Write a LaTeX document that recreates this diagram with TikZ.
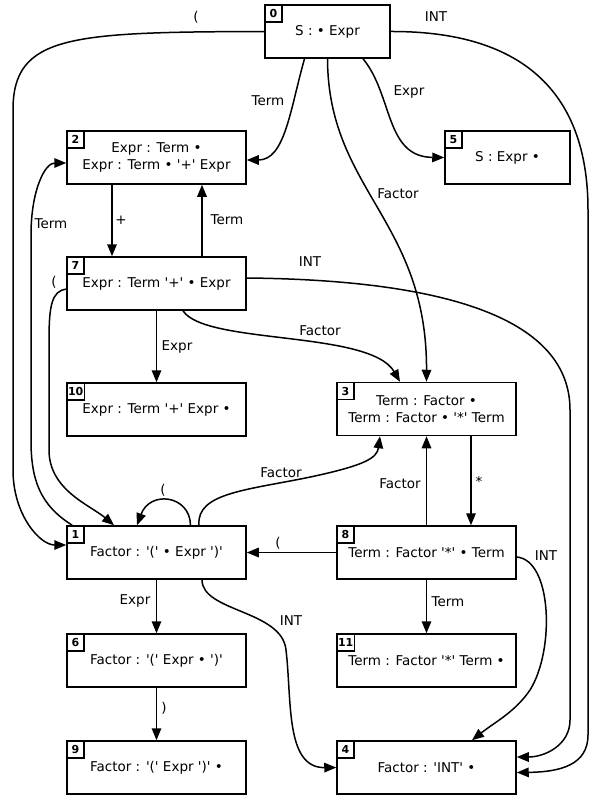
\documentclass[tikz,border=0pt]{standalone}
\usepackage{fontspec}
\newfontfamily\dvs{DejaVu Sans}
\usetikzlibrary{arrows.meta,calc}
\begin{document}
\begin{tikzpicture}[x=1pt,y=-1pt,
 every node/.style={font=\dvs\fontsize{13.5}{17}\selectfont},
 state/.style={draw, line width=1.5pt, minimum width=179pt, minimum height=53pt, inner sep=0pt, align=center},
 numbox/.style={draw, line width=1.5pt, anchor=north west, minimum width=17pt, minimum height=17pt, inner sep=1pt, font=\dvs\bfseries\fontsize{11}{12}\selectfont},
 edge/.style={line width=1.5pt, -{Triangle[length=12pt,width=9.5pt]}},
 lbl/.style={inner sep=0pt}
]
\useasboundingbox[fill=white] (0,0) rectangle (591,800);

% states
\node[state, minimum width=125pt] (n0) at (327.5,31.5) {S : • Expr};
\node[state] (n2) at (156.5,157.5) {Expr : Term •\\Expr : Term • '+' Expr};
\node[state, minimum width=125pt] (n5) at (507.5,157.5) {S : Expr •};
\node[state] (n7) at (156.5,283.5) {Expr : Term '+' • Expr};
\node[state] (n10) at (156.5,409.5) {Expr : Term '+' Expr •};
\node[state] (n3) at (426.5,409) {Term : Factor •\\Term : Factor • '*' Term};
\node[state] (n1) at (156.5,552.5) {Factor : '(' • Expr ')'};
\node[state] (n8) at (426.5,552.5) {Term : Factor '*' • Term};
\node[state] (n6) at (156.5,660.5) {Factor : '(' Expr • ')'};
\node[state] (n11) at (426.5,660.5) {Term : Factor '*' Term •};
\node[state] (n9) at (156.5,767.5) {Factor : '(' Expr ')' •};
\node[state] (n4) at (426.5,767.5) {Factor : 'INT' •};

% state numbers
\node[numbox] (k0) at (n0.north west) {0};
\node[numbox] (k2) at (n2.north west) {2};
\node[numbox] (k5) at (n5.north west) {5};
\node[numbox] (k7) at (n7.north west) {7};
\node[numbox] (k10) at (n10.north west) {10};
\node[numbox] (k3) at (n3.north west) {3};
\node[numbox] (k1) at (n1.north west) {1};
\node[numbox] (k8) at (n8.north west) {8};
\node[numbox] (k6) at (n6.north west) {6};
\node[numbox] (k11) at (n11.north west) {11};
\node[numbox] (k9) at (n9.north west) {9};
\node[numbox] (k4) at (n4.north west) {4};

% edges
\draw[edge] (n0.west) .. controls (70,32) and (13,35) .. (13,110) -- (13,470) .. controls (13,515) and (40,545) .. ($(n1.west)+(0,-7.5)$);
\draw[edge] ($(n0.south)+(-23,0)$) .. controls (290,110) and (285,160) .. ($(n2.east)+(0,2.5)$);
\draw[edge] ($(n0.south)+(35.5,0)$) .. controls (393,95) and (385,157) .. (n5.west);
\draw[edge] (n0.south) .. controls (328,190) and (427,220) .. (n3.north);
\draw[edge] (n0.east) .. controls (520,31) and (588,90) .. (588,210) -- (588,735) .. controls (588,765) and (560,772) .. ($(n4.east)+(0,5)$);
\draw[edge] ($(n2.south)+(-44.5,0)$) -- ($(n7.north)+(-44.5,0)$);
\draw[edge] ($(n7.north)+(45.5,0)$) -- ($(n2.south)+(45.5,0)$);
\draw[edge] ($(n1.north west)+(6,0)$) .. controls (40,505) and (31,480) .. (31,440) -- (31,235) .. controls (31,190) and (45,163) .. ($(n2.west)+(0,5.5)$);
\draw[edge] ($(n7.west)+(0,5.5)$) .. controls (52,291) and (49,305) .. (49,340) -- (49,450) .. controls (49,490) and (90,505) .. ($(n1.north)+(-42.5,0)$);
\draw[edge] (n7.south) -- (n10.north);
\draw[edge] ($(n7.south)+(26.5,0)$) .. controls (205,345) and (370,330) .. ($(n3.north)+(-26.5,0)$);
\draw[edge] ($(n7.east)+(0,-5.5)$) .. controls (450,280) and (570,320) .. (570,410) -- (570,720) .. controls (570,745) and (545,757) .. ($(n4.east)+(0,-10.5)$);
\draw[edge] ($(n1.north)+(34,0)$) .. controls (190,495) and (150,490) .. ($(n1.north)+(-19.5,0)$);
\draw[edge] ($(n1.north)+(42.5,0)$) .. controls (196,492) and (250,490) .. (315,476) .. controls (365,465) and (377,458) .. ($(n3.south)+(-46.5,0)$);
\draw[edge] (n8.west) -- (n1.east);
\draw[edge] (n1.south) -- (n6.north);
\draw[edge] ($(n1.south)+(45.5,0)$) .. controls (202,612) and (282,610) .. (286,650) .. controls (292,700) and (285,768) .. (n4.west);
\draw[edge] (n6.south) -- (n9.north);
\draw[edge] ($(n3.south)+(44.5,0)$) -- ($(n8.north)+(44.5,0)$);
\draw[edge] (n8.north) -- (n3.south);
\draw[edge] (n8.south) -- (n11.north);
\draw[edge] ($(n8.east)+(0,4.5)$) .. controls (552,560) and (555,650) .. (530,690) .. controls (515,712) and (495,722) .. ($(n4.north)+(45.5,0)$);

% edge labels
\node[lbl] (l0a) at (196,17) {(};
\node[lbl] (l0b) at (436,17) {INT};
\node[lbl] (l0c) at (268,101) {Term};
\node[lbl] (l0d) at (409,92) {Expr};
\node[lbl] (l0e) at (398,194) {Factor};
\node[lbl] (l2a) at (121,220) {+};
\node[lbl] (l7a) at (227,220) {Term};
\node[lbl] (l1a) at (51,224) {Term};
\node[lbl] (l7b) at (310,262) {INT};
\node[lbl] (l7c) at (54,282) {(};
\node[lbl] (l7d) at (320,331) {Factor};
\node[lbl] (l7e) at (177,347) {Expr};
\node[lbl] (l1b) at (163,490) {(};
\node[lbl] (l1c) at (281,473) {Factor};
\node[lbl] (l8a) at (400,484) {Factor};
\node[lbl] (l3a) at (479,481) {*};
\node[lbl] (l8b) at (278,543) {(};
\node[lbl] (l8c) at (546,556) {INT};
\node[lbl] (l1d) at (135,601) {Expr};
\node[lbl] (l8d) at (448,602) {Term};
\node[lbl] (l1e) at (291,621) {INT};
\node[lbl] (l6a) at (164,708) {)};
\end{tikzpicture}
\end{document}
